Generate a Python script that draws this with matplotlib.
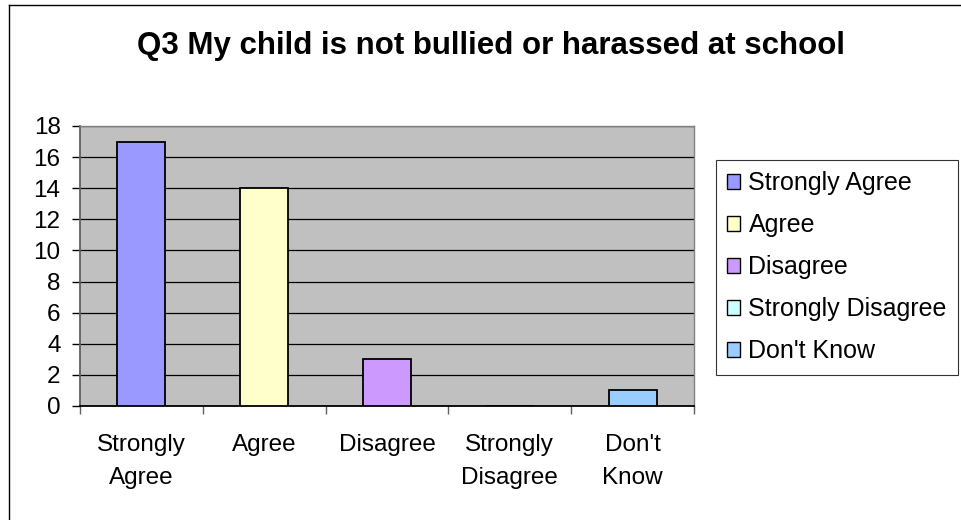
import matplotlib
matplotlib.use("Agg")
import matplotlib.pyplot as plt
from matplotlib.patches import Patch
from matplotlib.lines import Line2D

categories = ["Strongly\nAgree", "Agree", "Disagree", "Strongly\nDisagree", "Don't\nKnow"]
legend_labels = ["Strongly Agree", "Agree", "Disagree", "Strongly Disagree", "Don't Know"]
counts = [17, 14, 3, 0, 1]
colors = ["#9999FF", "#FFFFCC", "#CC99FF", "#CCFFFF", "#99CCFF"]
title = "Q3 My child is not bullied or harassed at school"

plt.rcParams['font.family'] = ['Liberation Sans', 'DejaVu Sans']

W, H = 961, 520
fig = plt.figure(figsize=(W / 100, H / 100), dpi=100)

# outer chart frame (only left and top edges visible)
fig.add_artist(Line2D([8.5 / W, 8.5 / W], [0, 1 - 4.5 / H], color="black", lw=1.0))
fig.add_artist(Line2D([8.5 / W, 1], [1 - 4.5 / H, 1 - 4.5 / H], color="black", lw=1.0))

ax = fig.add_axes([80 / W, (H - 406) / H, 614 / W, 280 / H])
ax.set_facecolor("#C0C0C0")

x = list(range(len(categories)))
ax.bar(x, counts, width=0.39, color=colors, edgecolor="black", linewidth=1.3, zorder=3)

ax.set_xlim(-0.5, len(categories) - 0.5)
ax.set_ylim(0, 18)
ax.set_yticks(range(0, 19, 2))
ax.yaxis.grid(True, color="black", linewidth=0.9, zorder=1)
ax.set_axisbelow(True)

ax.set_xticks([i - 0.5 for i in range(len(categories) + 1)])
ax.set_xticklabels([])
ax.set_xticks(x, minor=True)
ax.set_xticklabels(categories, minor=True, fontsize=17.5, linespacing=1.65)
ax.tick_params(axis="x", which="minor", length=0, pad=20)
ax.tick_params(axis="x", which="major", length=6, width=1, color="#606060", direction="out")
ax.tick_params(axis="y", length=6, width=1, color="black", direction="out", labelsize=17.5, pad=8)

for s in ["top", "right"]:
    ax.spines[s].set_color("#808080")
    ax.spines[s].set_linewidth(1.0)
ax.spines["left"].set_color("#606060")
ax.spines["left"].set_linewidth(1.3)
ax.spines["bottom"].set_color("black")
ax.spines["bottom"].set_linewidth(1.3)

fig.text(491 / W, 1 - 46 / H, title, ha="center", va="center", fontsize=22.5, fontweight="bold")

handles = [Patch(facecolor=c, edgecolor="black", linewidth=1.0) for c in colors]
leg = fig.legend(handles, legend_labels, loc="upper left",
                 bbox_to_anchor=(716 / W, 1 - 160 / H), fontsize=18,
                 frameon=True, fancybox=False, edgecolor="black",
                 handlelength=0.5, handleheight=0.5, handletextpad=0.35,
                 labelspacing=0.72, borderpad=0.45, borderaxespad=0)
leg.get_frame().set_linewidth(0.8)

fig.savefig("out.png", dpi=100)
